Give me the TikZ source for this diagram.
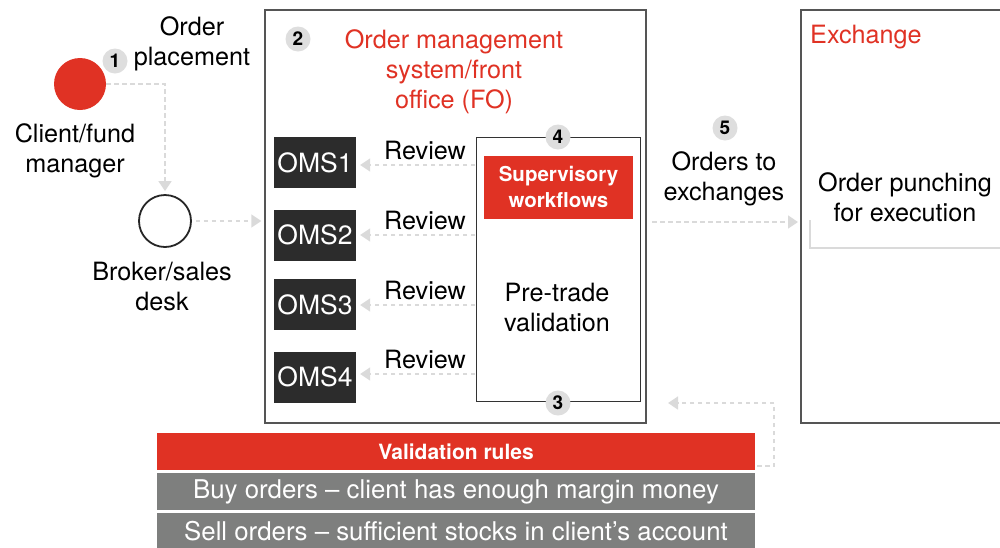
\documentclass[tikz,border=0pt]{standalone}
\usepackage{fontspec}
\setmainfont{TeX Gyre Heros}
\usetikzlibrary{arrows.meta,calc}

\definecolor{accent}{RGB}{224,50,36}
\definecolor{darkbox}{RGB}{44,44,44}
\definecolor{rowgray}{RGB}{126,127,126}
\definecolor{badgegray}{RGB}{222,222,222}
\definecolor{flowgray}{RGB}{218,218,218}
\definecolor{framegray}{RGB}{85,85,85}

\tikzset{
  txt/.style={font=\fontsize{25.2}{30}\selectfont, align=center, inner sep=0pt},
  badge/.style={circle, fill=badgegray, minimum size=25pt, inner sep=0pt,
                font=\fontsize{19}{19}\selectfont\bfseries},
  flow/.style={draw=flowgray, line width=1.5pt, dash pattern=on 4.5pt off 3.5pt,
               -{Triangle[length=10pt,width=13pt,color=flowgray]}},
  panel/.style={draw=framegray, line width=1.4pt, fill=white, inner sep=0pt},
  omsbox/.style={fill=darkbox, text=white, minimum width=82pt, minimum height=51pt,
                 inner sep=0pt, font=\fontsize{26.5}{26}\selectfont},
  rulehead/.style={fill=accent, text=white, minimum width=598pt, minimum height=37pt,
                   inner sep=0pt, font=\fontsize{21}{21}\selectfont\bfseries},
  rulerow/.style={fill=rowgray, text=white, minimum width=598pt, minimum height=37pt,
                  inner sep=0pt, font=\fontsize{25.8}{25}\selectfont},
}

\begin{document}
\begin{tikzpicture}[x=1pt,y=-1pt]
\useasboundingbox (0,0) rectangle (1000,547);

% --- client and broker -------------------------------------------------
\node[circle, fill=accent, minimum size=52pt, inner sep=0pt] (client) at (80,84) {};
\node[txt] (clientlbl) at (75,150.5) {Client/fund\\manager};
\node[badge] (b1) at (115,61) {1};
\node[txt] (placelbl) at (192,44) {Order\\placement};

\node[circle, draw=black!85, line width=1.8pt, fill=white, minimum size=52pt, inner sep=0pt] (broker) at (165,221) {};
\node[txt] (brokerlbl) at (162,286) {Broker/sales\\desk};

% --- order management system / front office ---------------------------
\node[panel, minimum width=381pt, minimum height=413pt] (fo) at (455.5,216.5) {};
\node[badge] (b2) at (298,39) {2};
\node[txt, text=accent] (fotitle) at (454,72) {Order management\\system/front\\office (FO)};

\node[omsbox] (oms1) at (315,162.5) {OMS1};
\node[omsbox] (oms2) at (315,235) {OMS2};
\node[omsbox] (oms3) at (315,304.5) {OMS3};
\node[omsbox] (oms4) at (315,377) {OMS4};

\node[draw=black!80, line width=1pt, fill=white, minimum width=164pt, minimum height=264pt, inner sep=0pt] (pv) at (558,269) {};
\node[fill=accent, text=white, minimum width=149pt, minimum height=63pt, inner sep=0pt,
      align=center, font=\fontsize{20.5}{26}\selectfont\bfseries] (sup) at (558.5,187) {Supervisory\\workflows};
\node[txt] (pvlbl) at (557,307) {Pre-trade\\validation};
\node[badge] (b4) at (558,137) {4};
\node[badge] (b3) at (558,403) {3};

\foreach \i/\y in {1/165,2/235,3/305,4/374}{
  \coordinate (rv\i) at (475,\y);
  \node[txt] (rvlbl\i) at (425,\y-14.5) {Review};
  \draw[flow, shorten >=4pt] (rv\i) -- (oms\i.east |- rv\i);
}

% --- exchange -----------------------------------------------------------
\node[panel, minimum width=210pt, minimum height=413pt] (ex) at (906,216.5) {};
\node[txt, text=accent, anchor=west] (exlbl) at (810,37) {Exchange};
\draw[flowgray, line width=1.2pt] (810,220) |- (1005,248);
\node[txt] (punch) at (905,197) {Order punching\\for execution};

\node[badge] (b5) at (725,128) {5};
\node[txt] (tolbl) at (724,179) {Orders to\\exchanges};

% --- validation rules ---------------------------------------------------
\node[rulehead] (rules) at (456,451.5) {Validation rules};
\node[rulerow] (buy) at (456,491.5) {Buy orders -- client has enough margin money};
\node[rulerow] (sell) at (456,531.5) {Sell orders -- sufficient stocks in client’s account};

% --- connectors ---------------------------------------------------------
\draw[flow, shorten >=3pt] (client.east) -| (broker.north);
\draw[flow, shorten <=4pt, shorten >=3pt] (broker.east) -- (broker.east -| fo.west);
\coordinate (o5) at (652,222);
\coordinate (x5) at (798,222);
\draw[flow] (o5) -- (x5);
\coordinate (r0) at (757,466);
\coordinate (r1) at (774,466);
\coordinate (r2) at (774,403);
\coordinate (r3) at (668,403);
\draw[flow] (r0) -- (r1) -- (r2) -- (r3);
\end{tikzpicture}
\end{document}
